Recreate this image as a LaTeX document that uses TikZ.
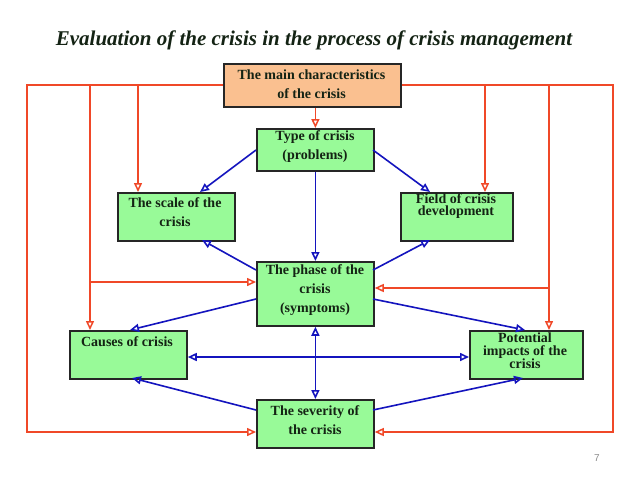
\documentclass[tikz,border=0pt]{standalone}
\usepackage{fontspec}
\setmainfont{Liberation Serif}
\newfontfamily\pagefont{Liberation Sans}
\usetikzlibrary{arrows.meta}
\definecolor{boxgreen}{RGB}{152,250,152}
\definecolor{boxorange}{RGB}{250,192,144}
\definecolor{linered}{RGB}{240,72,40}
\definecolor{lineblue}{RGB}{20,20,190}
\definecolor{txtdark}{RGB}{20,35,20}
\begin{document}
\begin{tikzpicture}[x=1pt,y=-1pt,
  box/.style={draw=black!85, line width=1.8pt, fill=boxgreen, inner sep=0pt, anchor=north west},
  txt/.style={font=\bfseries\fontsize{14}{19}\selectfont, align=center, inner sep=0pt, text=txtdark},
  tighttxt/.style={font=\bfseries\fontsize{14}{12.5}\selectfont, align=center, inner sep=0pt, text=txtdark},
  redarrow/.style={draw=linered, line width=1.5pt, -{Triangle[open,length=9pt,width=8pt]}},
  bluearrow/.style={draw=lineblue, line width=1.6pt, -{Triangle[open,length=9pt,width=8pt]}},
  bluedouble/.style={draw=lineblue, line width=1.6pt, {Triangle[open,length=9pt,width=8pt]}-{Triangle[open,length=9pt,width=8pt]}}]
\useasboundingbox (0,0) rectangle (640,480);
\fill[white] (0,0) rectangle (640,480);

% title
\node[font=\bfseries\itshape\fontsize{21}{24}\selectfont, text=txtdark, inner sep=0pt] (title) at (314,40) {Evaluation of the crisis in the process of crisis management};

% boxes
\node[box, fill=boxorange, minimum width=177pt, minimum height=43pt] (main) at (223,63) {};
\node[box, minimum width=117pt, minimum height=42pt] (type) at (256,128) {};
\node[box, minimum width=117pt, minimum height=48pt] (scale) at (117,192) {};
\node[box, minimum width=112pt, minimum height=48pt] (field) at (400,192) {};
\node[box, minimum width=117pt, minimum height=64pt] (phase) at (256,261) {};
\node[box, minimum width=117pt, minimum height=48pt] (causes) at (69,330) {};
\node[box, minimum width=113pt, minimum height=48pt] (potential) at (469,330) {};
\node[box, minimum width=117pt, minimum height=48pt] (severity) at (256,399) {};

% texts
\node[txt] (main-t) at (311.5,84) {The main characteristics\\of the crisis};
\node[txt] (type-t) at (315,147) {Type of crisis\\(problems)};
\node[txt] (scale-t) at (175,212) {The scale of the\\crisis};
\node[tighttxt] (field-t) at (456,206) {Field of crisis\\development};
\node[txt] (phase-t) at (315,290) {The phase of the\\crisis\\(symptoms)};
\node[txt] (causes-t) at (127,342) {Causes of crisis};
\node[tighttxt] (potential-t) at (525,351) {Potential\\impacts of the\\crisis};
\node[txt] (severity-t) at (315,420) {The severity of\\the crisis};

\node[font=\pagefont\fontsize{10}{12}\selectfont, text=black!45, inner sep=0pt] (pagenum) at (597,458) {7};

% red connector coordinates
\coordinate (L1) at (27,85);
\coordinate (L1b) at (27,432);
\coordinate (L2) at (90,85);
\coordinate (L2b) at (90,282);
\coordinate (L3) at (138,85);
\coordinate (R1) at (613,85);
\coordinate (R1b) at (613,432);
\coordinate (R2) at (549,85);
\coordinate (R2b) at (549,288);
\coordinate (R3) at (485,85);

% red connectors
\draw[redarrow] (main.west |- L1) -- (L1) -- (L1b) -- (severity.west |- L1b);
\draw[redarrow] (L2) -- (causes.north -| L2);
\draw[redarrow] (L2b) -- (phase.west |- L2b);
\draw[redarrow] (L3) -- (scale.north -| L3);
\draw[redarrow] (main.east |- R1) -- (R1) -- (R1b) -- (severity.east |- R1b);
\draw[redarrow] (R2) -- (potential.north -| R2);
\draw[redarrow] (R2b) -- (phase.east |- R2b);
\draw[redarrow] (R3) -- (field.north -| R3);
\draw[redarrow] (main.south -| type.north) -- (type.north);

% blue connector coordinates
\coordinate (tL) at (256,150);
\coordinate (tR) at (373,150);
\coordinate (pL1) at (256,270);
\coordinate (pR1) at (373,270);
\coordinate (pL2) at (256,299);
\coordinate (pR2) at (373,299);
\coordinate (sL) at (256,410);
\coordinate (sR) at (373,410);
\coordinate (cp) at (0,357);

% blue connectors
\draw[bluearrow] (tL) -- (200,192);
\draw[bluearrow] (tR) -- (430,192);
\draw[bluearrow] (type.south) -- (phase.north);
\draw[bluearrow] (pL1) -- (202,240);
\draw[bluearrow] (pR1) -- (430,240);
\draw[bluearrow] (pL2) -- (130,330);
\draw[bluearrow] (pR2) -- (525,330);
\draw[bluedouble] (causes.east |- cp) -- (potential.west |- cp);
\draw[bluedouble] (phase.south) -- (severity.north);
\draw[bluearrow] (sL) -- (132,378);
\draw[bluearrow] (sR) -- (523,378);
\end{tikzpicture}
\end{document}
